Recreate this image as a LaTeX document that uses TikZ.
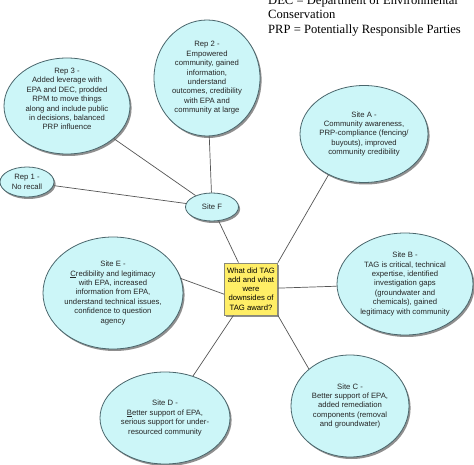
\documentclass[tikz,border=0pt]{standalone}
\usepackage{fontspec}
\setmainfont{Liberation Serif}
\newfontfamily\arialf{Liberation Sans}
\usetikzlibrary{shapes.geometric,shadows}
\definecolor{bubfill}{HTML}{CCF6F8}
\definecolor{bubline}{HTML}{4A666C}
\definecolor{boxfill}{HTML}{FFEE66}
\definecolor{boxline}{HTML}{8A8A78}
\definecolor{edgec}{HTML}{555555}
\tikzset{
  bub/.style={ellipse, draw=bubline, line width=0.8pt, fill=bubfill, inner sep=-20pt,
    drop shadow={shadow xshift=1.6pt, shadow yshift=-2pt, fill=black!55, opacity=0.8}},
  txt/.style={font=\arialf\fontsize{7.7}{9.4}\selectfont, align=center, text=black!85, inner sep=0pt},
  qbox/.style={rectangle, draw=boxline, line width=0.8pt, fill=boxfill, inner sep=0pt,
    minimum width=53pt, minimum height=52pt, align=center,
    font=\arialf\fontsize{7.7}{9.2}\selectfont,
    drop shadow={shadow xshift=1.6pt, shadow yshift=-2pt, fill=black!55, opacity=0.8}},
  edge/.style={draw=edgec, line width=0.7pt},
  legend/.style={font=\fontsize{12.6}{14.5}\selectfont, anchor=base west, inner sep=0pt}
}
\begin{document}
\begin{tikzpicture}[x=1pt,y=-1pt]
\useasboundingbox (0,0) rectangle (474,465);
\clip (0,0) rectangle (474,465);
\fill[white] (0,0) rectangle (474,465);
\coordinate (c3) at (67,106);
\coordinate (c2) at (207,78);
\coordinate (cA) at (364,134);
\coordinate (c1) at (27,182);
\coordinate (cF) at (212,207);
\coordinate (cQ) at (251,289);
\coordinate (cE) at (113,293);
\coordinate (cB) at (405,284);
\coordinate (cD) at (165,418);
\coordinate (cC) at (350,406);

% legend
\node[legend] (t1) at (268,4.3) {DEC = Department of Environmental};
\node[legend] (t2) at (268,18.8) {Conservation};
\node[legend] (t3) at (268,33.3) {PRP = Potentially Responsible Parties};

% bubbles
\node[bub, minimum width=126pt, minimum height=96pt] (rep3) at (c3) {};
\node[txt] (rep3t) at (67,99) {Rep 3 -\\Added leverage with\\EPA and DEC, prodded\\RPM to move things\\along and include public\\in decisions, balanced\\PRP influence};
\node[bub, minimum width=106pt, minimum height=116pt, txt] (rep2) at (c2) {Rep 2 -\\Empowered\\community, gained\\information,\\understand\\outcomes, credibility\\with EPA and\\community at large};
\node[bub, minimum width=128pt, minimum height=97pt, txt] (siteA) at (cA) {Site A -\\Community awareness,\\PRP-compliance (fencing/\\buyouts), improved\\community credibility};
\node[bub, minimum width=54pt, minimum height=30pt, txt] (rep1) at (c1) {Rep 1 -\\No recall};
\node[bub, minimum width=53pt, minimum height=28pt, txt] (siteF) at (cF) {Site F};
\node[bub, minimum width=140pt, minimum height=112pt, txt] (siteE) at (cE) {Site E -\\\underline{C}redibility and legitimacy\\with EPA, increased\\information from EPA,\\understand technical issues,\\confidence to question\\agency};
\node[bub, minimum width=136pt, minimum height=102pt, txt] (siteB) at (cB) {Site B -\\TAG is critical, technical\\expertise, identified\\investigation gaps\\(groundwater and\\chemicals), gained\\legitimacy with community};
\node[bub, minimum width=130pt, minimum height=92pt, txt] (siteD) at (cD) {Site D -\\\underline{B}etter support of EPA,\\serious support for under-\\resourced community};
\node[bub, minimum width=118pt, minimum height=102pt, txt] (siteC) at (cC) {Site C -\\Better support of EPA,\\added remediation\\components (removal\\and groundwater)};
\node[qbox] (q) at (cQ) {What did TAG\\add and what\\were\\downsides of\\TAG award?};

% connectors
\draw[edge] (rep3) -- (siteF);
\draw[edge] (rep2) -- (siteF);
\draw[edge] (rep1) -- (siteF);
\draw[edge] (siteF) -- (q);
\draw[edge] (siteA.229) -- (q.north east);
\draw[edge] (siteE.12) -- (q.191);
\draw[edge] (q) -- (siteB);
\draw[edge] (q) -- (siteD);
\draw[edge] (q.south east) -- (siteC.138);
\end{tikzpicture}
\end{document}
